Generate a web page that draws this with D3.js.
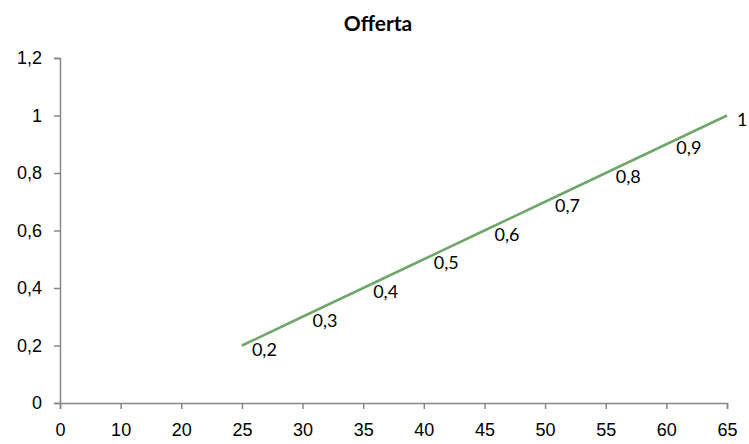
<!DOCTYPE html>
<html>
<head>
<meta charset="utf-8">
<script src="https://cdn.jsdelivr.net/npm/d3@7"></script>
<style>
  html, body { margin: 0; padding: 0; background: #fff; }
  svg { display: block; font-family: Lato, "Open Sans", sans-serif; }
</style>
</head>
<body>
<svg id="chart" width="749" height="444"></svg>
<script>
// Category labels of the horizontal axis (points sit on tick marks)
const categories = ["0", "10", "20", "25", "30", "35", "40", "45", "50", "55", "60", "65"];
// Supply values per category (no value for the first three)
const offerta = [null, null, null, 0.2, 0.3, 0.4, 0.5, 0.6, 0.7, 0.8, 0.9, 1.0];
// Vertical axis ticks
const yTicks = [0, 0.2, 0.4, 0.6, 0.8, 1, 1.2];

const fmt = v => String(+v.toFixed(2)).replace(".", ",");

const svg = d3.select("#chart");
const W = 749, H = 444;
const margin = { left: 60, right: 22, top: 58, bottom: 41 };

const x = d3.scalePoint()
  .domain(categories)
  .range([margin.left, W - margin.right]);

const y = d3.scaleLinear()
  .domain([0, 1.2])
  .range([H - margin.bottom, margin.top]);

const axisColor = "#868686";
const fontSize = "18px";

// Y axis
const yAxis = svg.append("g")
  .attr("transform", `translate(${margin.left},0)`)
  .call(d3.axisLeft(y).tickValues(yTicks).tickSize(6).tickPadding(12).tickFormat(fmt));
yAxis.select(".domain").attr("stroke", axisColor).attr("stroke-width", 1.5);
yAxis.selectAll(".tick line").attr("stroke", axisColor).attr("stroke-width", 1.5);
yAxis.selectAll(".tick text").attr("fill", "#000").style("font-size", fontSize);

// X axis
const xAxis = svg.append("g")
  .attr("transform", `translate(0,${y(0)})`)
  .call(d3.axisBottom(x).tickSize(6).tickPadding(14));
xAxis.select(".domain").attr("stroke", axisColor).attr("stroke-width", 1.5);
xAxis.selectAll(".tick line").attr("stroke", axisColor).attr("stroke-width", 1.5);
xAxis.selectAll(".tick text").attr("fill", "#000").style("font-size", fontSize);

// Series line
const pts = categories.map((c, i) => ({ c, v: offerta[i] })).filter(d => d.v !== null);

svg.append("path")
  .datum(pts)
  .attr("fill", "none")
  .attr("stroke", "#6fa66a")
  .attr("stroke-width", 2.5)
  .attr("d", d3.line().x(d => x(d.c)).y(d => y(d.v)));

// Data labels to the right of each point
svg.append("g").selectAll("text")
  .data(pts)
  .join("text")
  .attr("x", d => x(d.c) + 10)
  .attr("y", d => y(d.v) + 3)
  .attr("dominant-baseline", "central")
  .style("font-size", fontSize)
  .attr("fill", "#000")
  .text(d => fmt(d.v));

// Title
svg.append("text")
  .attr("x", 378)
  .attr("y", 31)
  .attr("text-anchor", "middle")
  .style("font-size", "21px")
  .style("font-weight", "bold")
  .text("Offerta");
</script>
</body>
</html>
